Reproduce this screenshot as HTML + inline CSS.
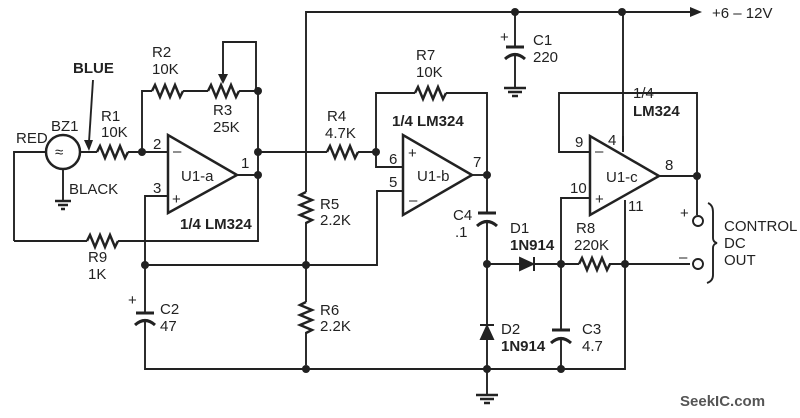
<!DOCTYPE html>
<html><head><style>
body{margin:0;background:#fff;}
svg{display:block;}
text{font-family:"Liberation Sans",sans-serif;font-size:15px;fill:#222;}
.b{font-weight:bold;}
</style></head><body>
<svg width="800" height="418" viewBox="0 0 800 418" xmlns="http://www.w3.org/2000/svg">
<g stroke="#222" stroke-width="1.9" fill="none">
<polyline points="306,365 306,12 690,12"/>
<polygon points="690,7 702,12 690,17" fill="#222" stroke="none"/>
<line x1="515" y1="12" x2="515" y2="47"/>
<line x1="506" y1="47" x2="524" y2="47" stroke-width="3"/>
<path d="M505,59 Q515,50 525,59" stroke-width="3"/>
<line x1="515" y1="53" x2="515" y2="88"/>
<line x1="504" y1="88" x2="526" y2="88" stroke-width="2.5"/>
<line x1="508" y1="92" x2="522" y2="92" stroke-width="2.5"/>
<line x1="512" y1="96" x2="518" y2="96" stroke-width="2.5"/>
<line x1="623" y1="12" x2="623" y2="150"/>
<polyline points="14,241 14,152 46,152"/>
<circle cx="63" cy="152" r="17" stroke-width="2.5"/>
<line x1="80" y1="152" x2="97" y2="152"/>
<polyline points="97,152 100,146 105,158 110,146 115,158 120,146 125,158 128,152" stroke-width="2.5"/>
<line x1="128" y1="152" x2="168" y2="152"/>
<line x1="63" y1="169" x2="63" y2="201"/>
<line x1="55" y1="201" x2="71" y2="201" stroke-width="2.5"/>
<line x1="58" y1="205" x2="68" y2="205" stroke-width="2.5"/>
<line x1="61" y1="209" x2="65" y2="209" stroke-width="2.5"/>
<line x1="93" y1="80" x2="89" y2="142"/>
<polygon points="84,140 89,151 93,140" fill="#222" stroke="none"/>
<line x1="14" y1="241" x2="87" y2="241"/>
<polyline points="87,241 90,235 95,247 100,235 105,247 110,235 115,247 118,241" stroke-width="2.5"/>
<polyline points="118,241 258,241 258,91"/>
<polyline points="142,152 142,91 152,91"/>
<polyline points="152,91 155,85 160,97 165,85 170,97 175,85 180,97 183,91" stroke-width="2.5"/>
<line x1="183" y1="91" x2="208" y2="91"/>
<polyline points="208,91 211,85 216,97 221,85 226,97 231,85 236,97 239,91" stroke-width="2.5"/>
<line x1="239" y1="91" x2="258" y2="91"/>
<polyline points="223,76 223,42 256,42 256,91"/>
<polygon points="218,74 223,84 228,74" fill="#222" stroke="none"/>
<polygon points="168,135 168,213 237,175" stroke-width="2.5"/>
<line x1="237" y1="175" x2="258" y2="175"/>
<polyline points="168,196 145,196 145,313"/>
<line x1="136" y1="313" x2="154" y2="313" stroke-width="3"/>
<path d="M135,325 Q145,316 155,325" stroke-width="3"/>
<polyline points="145,320 145,369 625,369 625,200"/>
<polyline points="145,265 377,265 377,191 403,191"/>
<line x1="258" y1="152" x2="327" y2="152"/>
<polyline points="327,152 330,146 335,158 340,146 345,158 350,146 355,158 358,152" stroke-width="2.5"/>
<line x1="358" y1="152" x2="376" y2="152"/>
<polyline points="376,152 376,167 403,167"/>
<rect x="299" y="192" width="14" height="30" fill="#fff" stroke="none"/>
<polyline points="306,192 300,195 312,200 300,205 312,210 300,215 312,220 306,223" stroke-width="2.5"/>
<rect x="299" y="302" width="14" height="30" fill="#fff" stroke="none"/>
<polyline points="306,302 300,305 312,310 300,315 312,320 300,325 312,330 306,333" stroke-width="2.5"/>
<polyline points="376,152 376,93 415,93"/>
<polyline points="415,93 418,87 423,99 428,87 433,99 438,87 443,99 446,93" stroke-width="2.5"/>
<polyline points="446,93 487,93 487,213"/>
<polygon points="403,135 403,215 472,175" stroke-width="2.5"/>
<line x1="472" y1="175" x2="487" y2="175"/>
<line x1="478" y1="213" x2="496" y2="213" stroke-width="3"/>
<path d="M477,226 Q487,217 497,226" stroke-width="3"/>
<line x1="487" y1="220" x2="487" y2="395"/>
<line x1="476" y1="395" x2="498" y2="395" stroke-width="2.5"/>
<line x1="480" y1="399" x2="494" y2="399" stroke-width="2.5"/>
<line x1="484" y1="403" x2="490" y2="403" stroke-width="2.5"/>
<line x1="487" y1="264" x2="690" y2="264"/>
<polygon points="520,258 520,270 533,264" fill="#222"/>
<line x1="534" y1="257" x2="534" y2="271" stroke-width="2"/>
<rect x="579" y="258" width="30" height="12" fill="#fff" stroke="none"/>
<polyline points="579,264 582,258 587,270 592,258 597,270 602,258 607,270 610,264" stroke-width="2.5"/>
<polygon points="481,339 493,339 487,326" fill="#222"/>
<line x1="480" y1="325" x2="494" y2="325" stroke-width="2"/>
<polyline points="590,152 559,152 559,93 697,93 697,215"/>
<polygon points="590,136 590,215 659,176" stroke-width="2.5" fill="#fff"/>
<line x1="623" y1="136" x2="623" y2="152"/>
<line x1="659" y1="176" x2="697" y2="176"/>
<polyline points="590,198 561,198 561,330"/>
<line x1="552" y1="330" x2="570" y2="330" stroke-width="3"/>
<path d="M551,343 Q561,334 571,343" stroke-width="3"/>
<line x1="561" y1="337" x2="561" y2="369"/>
<circle cx="698" cy="221" r="5" fill="#fff"/>
<circle cx="698" cy="264" r="5" fill="#fff"/>
<path d="M708,203 Q713,205 713,212 L713,238 Q713,242 717,243 Q713,244 713,248 L713,275 Q713,281 707,283"/>
</g>
<g fill="#222">
<circle cx="142" cy="152" r="4"/><circle cx="258" cy="91" r="4"/><circle cx="258" cy="152" r="4"/><circle cx="258" cy="175" r="4"/>
<circle cx="376" cy="152" r="4"/><circle cx="145" cy="265" r="4"/><circle cx="306" cy="265" r="4"/><circle cx="306" cy="369" r="4"/>
<circle cx="487" cy="175" r="4"/><circle cx="487" cy="264" r="4"/><circle cx="487" cy="369" r="4"/><circle cx="561" cy="264" r="4"/>
<circle cx="561" cy="369" r="4"/><circle cx="625" cy="264" r="4"/><circle cx="697" cy="176" r="4"/>
<circle cx="515" cy="12" r="4"/><circle cx="622" cy="12" r="4"/>
</g>
<g>
<text x="712" y="18">+6 – 12V</text>
<text x="533" y="45">C1</text><text x="533" y="62">220</text>
<text x="500" y="42" font-size="12">+</text>
<text x="73" y="73" class="b">BLUE</text>
<text x="152" y="57">R2</text><text x="152" y="74">10K</text>
<text x="213" y="115">R3</text><text x="213" y="132">25K</text>
<text x="16" y="143">RED</text>
<text x="51" y="131">BZ1</text>
<text x="101" y="121">R1</text><text x="101" y="137">10K</text>
<text x="55" y="157" font-size="14">≈</text>
<text x="69" y="194">BLACK</text>
<text x="153" y="149">2</text><text x="153" y="193">3</text><text x="241" y="168">1</text>
<text x="173" y="156">–</text><text x="172" y="204" font-size="13">+</text>
<text x="181" y="181">U1-a</text>
<text x="180" y="229" class="b">1/4 LM324</text>
<text x="88" y="262">R9</text><text x="88" y="279">1K</text>
<text x="327" y="121">R4</text><text x="325" y="138">4.7K</text>
<text x="416" y="60">R7</text><text x="416" y="77">10K</text>
<text x="392" y="126" class="b">1/4 LM324</text>
<text x="389" y="164">6</text><text x="389" y="187">5</text>
<text x="408" y="158" font-size="13">+</text><text x="409" y="205">–</text>
<text x="417" y="181">U1-b</text>
<text x="473" y="167">7</text>
<text x="320" y="209">R5</text><text x="320" y="225">2.2K</text>
<text x="320" y="315">R6</text><text x="320" y="331">2.2K</text>
<text x="160" y="314">C2</text><text x="160" y="331">47</text>
<text x="128" y="305" font-size="12">+</text>
<text x="453" y="220">C4</text><text x="455" y="237">.1</text>
<text x="510" y="233">D1</text><text x="510" y="250" class="b">1N914</text>
<text x="501" y="334">D2</text><text x="501" y="351" class="b">1N914</text>
<text x="582" y="334">C3</text><text x="582" y="351">4.7</text>
<text x="576" y="233">R8</text><text x="574" y="250">220K</text>
<text x="633" y="98">1/4</text><text x="633" y="116" class="b">LM324</text>
<text x="575" y="147">9</text><text x="608" y="145">4</text>
<text x="570" y="193">10</text><text x="628" y="211">11</text>
<text x="665" y="170">8</text>
<text x="595" y="156">–</text><text x="595" y="204" font-size="13">+</text>
<text x="606" y="182">U1-c</text>
<text x="680" y="218" font-size="13">+</text><text x="679" y="262">–</text>
<text x="724" y="231">CONTROL</text><text x="724" y="248">DC</text><text x="724" y="265">OUT</text>
<text x="680" y="406" class="b" font-size="16" style="fill:#555">SeekIC.com</text>
</g>
</svg>
</body></html>
